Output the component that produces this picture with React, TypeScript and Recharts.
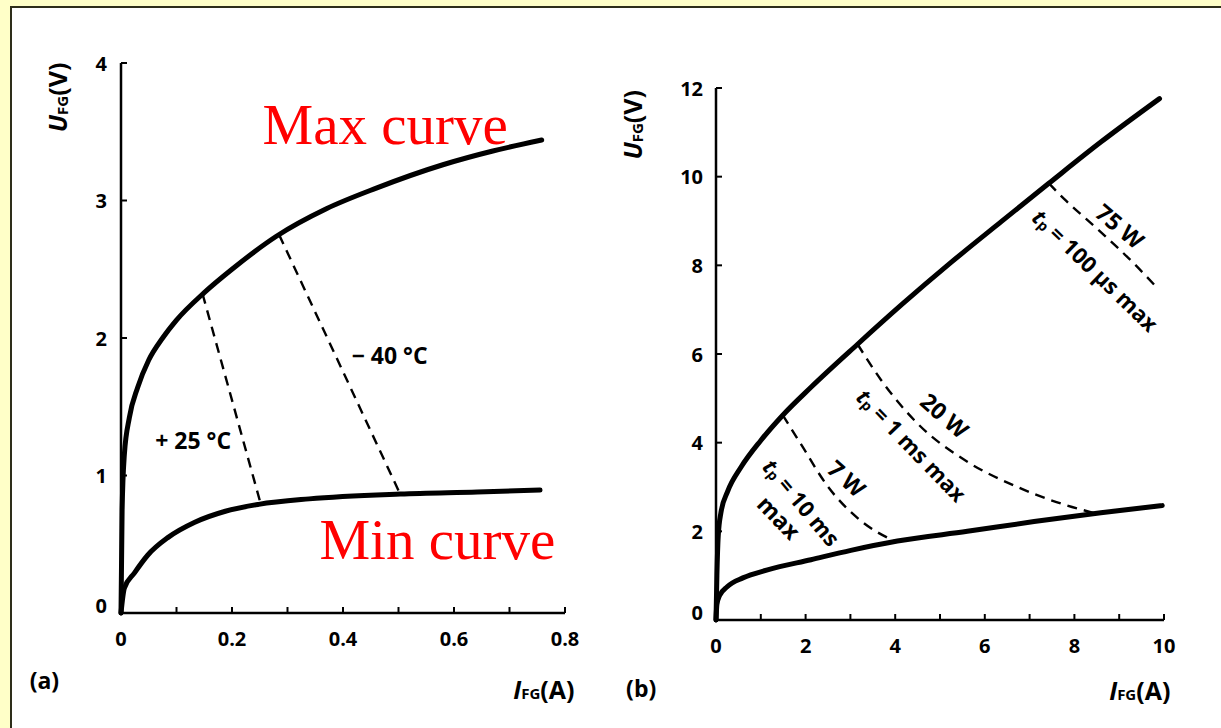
import React from 'react';
import { LineChart, Line, XAxis, YAxis, ReferenceDot } from 'recharts';

// ---------- Chart (a) data ----------
const aXTicks = [0, 0.1, 0.2, 0.3, 0.4, 0.5, 0.6, 0.7, 0.8];
const aXLabels = [0, 0.2, 0.4, 0.6, 0.8];
const aYTicks = [0, 1, 2, 3, 4];

const aMaxCurve = [
  { x: 0, y: 0 }, { x: 0.002, y: 0.75 }, { x: 0.006, y: 1.15 }, { x: 0.015, y: 1.42 },
  { x: 0.03, y: 1.64 }, { x: 0.05, y: 1.84 }, { x: 0.075, y: 2.0 }, { x: 0.1, y: 2.13 },
  { x: 0.15, y: 2.33 }, { x: 0.2, y: 2.5 }, { x: 0.28, y: 2.74 }, { x: 0.37, y: 2.94 },
  { x: 0.46, y: 3.09 }, { x: 0.58, y: 3.26 }, { x: 0.67, y: 3.36 }, { x: 0.758, y: 3.44 },
];
const aMinCurve = [
  { x: 0, y: 0 }, { x: 0.006, y: 0.18 }, { x: 0.024, y: 0.29 }, { x: 0.048, y: 0.42 },
  { x: 0.085, y: 0.55 }, { x: 0.133, y: 0.66 }, { x: 0.188, y: 0.74 }, { x: 0.248, y: 0.79 },
  { x: 0.339, y: 0.83 }, { x: 0.503, y: 0.865 }, { x: 0.642, y: 0.88 }, { x: 0.755, y: 0.894 },
];
const aPlus25 = [{ x: 0.147, y: 2.32 }, { x: 0.252, y: 0.79 }];
const aMinus40 = [{ x: 0.285, y: 2.75 }, { x: 0.503, y: 0.865 }];

// ---------- Chart (b) data ----------
const bXTicks = [0, 1, 2, 3, 4, 5, 6, 7, 8, 9, 10];
const bXLabels = [0, 2, 4, 6, 8, 10];
const bYTicks = [0, 2, 4, 6, 8, 10, 12];

const bMaxCurve = [
  { x: 0, y: 0 }, { x: 0.02, y: 1.0 }, { x: 0.05, y: 1.9 }, { x: 0.11, y: 2.42 },
  { x: 0.26, y: 2.9 }, { x: 0.56, y: 3.45 }, { x: 1.0, y: 4.05 }, { x: 1.49, y: 4.62 },
  { x: 2.12, y: 5.25 }, { x: 3.16, y: 6.22 }, { x: 4.13, y: 7.1 }, { x: 5.24, y: 8.06 },
  { x: 6.36, y: 8.98 }, { x: 7.43, y: 9.85 }, { x: 8.59, y: 10.78 }, { x: 9.9, y: 11.76 },
];
const bMinCurve = [
  { x: 0, y: 0 }, { x: 0.02, y: 0.35 }, { x: 0.08, y: 0.55 }, { x: 0.25, y: 0.75 },
  { x: 0.6, y: 0.95 }, { x: 1.15, y: 1.13 }, { x: 2.12, y: 1.36 }, { x: 3.01, y: 1.57 },
  { x: 4.05, y: 1.78 }, { x: 5.61, y: 2.0 }, { x: 7.1, y: 2.22 }, { x: 8.59, y: 2.42 },
  { x: 9.96, y: 2.58 },
];
const b75W = [
  { x: 7.43, y: 9.85 }, { x: 7.77, y: 9.5 }, { x: 8.59, y: 8.75 }, { x: 9.33, y: 8.04 }, { x: 9.85, y: 7.49 },
];
const b20W = [
  { x: 3.16, y: 6.22 }, { x: 3.68, y: 5.42 }, { x: 4.5, y: 4.43 }, { x: 5.61, y: 3.57 },
  { x: 6.73, y: 3.0 }, { x: 7.6, y: 2.66 }, { x: 8.45, y: 2.41 },
];
const b7W = [
  { x: 1.49, y: 4.62 }, { x: 1.9, y: 3.96 }, { x: 2.49, y: 3.02 }, { x: 3.23, y: 2.24 }, { x: 4.0, y: 1.77 },
];

// ---------- annotation texts ----------
const aTexts = [
  { x: 0.476, y: 3.41, kind: 'red', text: 'Max curve' },
  { x: 0.57, y: 0.39, kind: 'red', text: 'Min curve' },
  { x: 0.13, y: 1.26, kind: 'plain', text: '+ 25 °C' },
  { x: 0.484, y: 1.876, kind: 'plain', text: '\u2212 40 °C' },
  { x: -0.138, y: -0.49, kind: 'plain', text: '(a)' },
];
const bTexts = [
  { x: 9.02, y: 8.89, angle: 40, text: '75 W' },
  { x: 5.11, y: 4.62, angle: 41, text: '20 W' },
  { x: 2.92, y: 3.2, angle: 42, text: '7 W' },
  { x: 1.41, y: 2.32, angle: 46, text: 'max' },
  { x: -1.67, y: -1.53, angle: 0, text: '(b)' },
];
const bTpTexts = [
  { x: 8.48, y: 7.9, angle: 44, text: ' = 100 \u03bcs max' },
  { x: 4.375, y: 3.95, angle: 46, text: ' = 1 ms max' },
  { x: 1.92, y: 2.66, angle: 50, text: ' = 10 ms' },
];

const FONT = "'Open Sans', Lato, 'DejaVu Sans', sans-serif";
const TICK_SIZE = 20;
const NOTE_SIZE = 23;

const makeXTick = (labels: number[]) => (props: any) => {
  const { x, y, payload } = props;
  const v = payload.value;
  const show = labels.some((l) => Math.abs(l - v) < 1e-9);
  return (
    <g>
      <line x1={x} x2={x} y1={y} y2={y - 6} stroke="#000" strokeWidth={2} />
      {show && (
        <text x={x} y={y + 25} textAnchor="middle" dominantBaseline="central"
          fontFamily={FONT} fontWeight={700} fontSize={TICK_SIZE} fill="#000">{String(v)}</text>
      )}
    </g>
  );
};

const makeYTick = (gap: number) => (props: any) => {
  const { x, y, payload } = props;
  const v = payload.value;
  return (
    <g>
      <line x1={x} x2={x + 6} y1={y} y2={y} stroke="#000" strokeWidth={2} />
      <text x={x - gap} y={v === 0 ? y - 8 : y} textAnchor="end" dominantBaseline="central"
        fontFamily={FONT} fontWeight={700} fontSize={TICK_SIZE} fill="#000">{String(v)}</text>
    </g>
  );
};

const UAxisTitle = (cx: number, cy: number) => (
  <text x={cx} y={cy} transform={`rotate(-90 ${cx} ${cy})`} textAnchor="middle" dominantBaseline="central"
    fontFamily={FONT} fontWeight={700} fontSize={25} fill="#000">
    <tspan fontStyle="italic">U</tspan>
    <tspan fontSize={15} dy={5}>FG</tspan>
    <tspan dy={-5}>(V)</tspan>
  </text>
);
const IAxisTitle = (cx: number, cy: number) => (
  <text x={cx} y={cy} textAnchor="middle" dominantBaseline="central"
    fontFamily={FONT} fontWeight={700} fontSize={25} fill="#000">
    <tspan fontStyle="italic">I</tspan>
    <tspan fontSize={15} dy={4}>FG</tspan>
    <tspan dy={-4}>(A)</tspan>
  </text>
);

const curveProps = { stroke: '#000', strokeWidth: 5, dot: false, activeDot: false, isAnimationActive: false, strokeLinecap: 'round' as const };
const dashProps = { stroke: '#000', strokeWidth: 2.4, strokeDasharray: '10 7', dot: false, activeDot: false, isAnimationActive: false };

function ChartA() {
  return (
    <LineChart width={610} height={728} margin={{ top: 63, left: 81, right: 45, bottom: 85 }}>
      <XAxis dataKey="x" type="number" domain={[0, 0.8]} ticks={aXTicks} interval={0}
        tickSize={0} tickMargin={0} tickLine={false} height={30}
        axisLine={{ stroke: '#000', strokeWidth: 2.5 }} tick={makeXTick(aXLabels)} />
      <YAxis type="number" domain={[0, 4]} ticks={aYTicks} interval={0} width={40}
        tickSize={0} tickMargin={0} tickLine={false}
        axisLine={{ stroke: '#000', strokeWidth: 2.5 }} tick={makeYTick(14)} />
      <Line data={aPlus25} dataKey="y" type="linear" {...dashProps} />
      <Line data={aMinus40} dataKey="y" type="linear" {...dashProps} />
      <Line data={aMaxCurve} dataKey="y" type="monotone" {...curveProps} />
      <Line data={aMinCurve} dataKey="y" type="monotone" {...curveProps} />
      {aTexts.map((t, i) => (
        <ReferenceDot key={i} x={t.x} y={t.y} r={0} ifOverflow="visible"
          shape={(p: any) => t.kind === 'red' ? (
            <text x={p.cx} y={p.cy} textAnchor="middle" fontFamily="'Liberation Serif', 'Times New Roman', serif"
              fontSize={57} fill="#ff0000">{t.text}</text>
          ) : (
            <text x={p.cx} y={p.cy} textAnchor="middle" dominantBaseline="central" fontFamily={FONT}
              fontWeight={700} fontSize={NOTE_SIZE} fill="#000">{t.text}</text>
          )} />
      ))}
      <ReferenceDot x={-0.115} y={3.75} r={0} ifOverflow="visible" shape={(p: any) => UAxisTitle(p.cx, p.cy)} />
      <ReferenceDot x={0.762} y={-0.553} r={0} ifOverflow="visible" shape={(p: any) => IAxisTitle(p.cx, p.cy)} />
    </LineChart>
  );
}

function ChartB() {
  return (
    <LineChart width={611} height={728} margin={{ top: 88, left: 66, right: 57, bottom: 78 }}>
      <XAxis dataKey="x" type="number" domain={[0, 10]} ticks={bXTicks} interval={0}
        tickSize={0} tickMargin={0} tickLine={false} height={30}
        axisLine={{ stroke: '#000', strokeWidth: 2.5 }} tick={makeXTick(bXLabels)} />
      <YAxis type="number" domain={[0, 12]} ticks={bYTicks} interval={0} width={40}
        tickSize={0} tickMargin={0} tickLine={false}
        axisLine={{ stroke: '#000', strokeWidth: 2.5 }} tick={makeYTick(13)} />
      <Line data={b75W} dataKey="y" type="monotone" {...dashProps} />
      <Line data={b20W} dataKey="y" type="monotone" {...dashProps} />
      <Line data={b7W} dataKey="y" type="monotone" {...dashProps} />
      <Line data={bMaxCurve} dataKey="y" type="monotone" {...curveProps} />
      <Line data={bMinCurve} dataKey="y" type="monotone" {...curveProps} />
      {bTexts.map((t, i) => (
        <ReferenceDot key={i} x={t.x} y={t.y} r={0} ifOverflow="visible"
          shape={(p: any) => (
            <text x={p.cx} y={p.cy} transform={`rotate(${t.angle} ${p.cx} ${p.cy})`} textAnchor="middle"
              dominantBaseline="central" fontFamily={FONT} fontWeight={700} fontSize={NOTE_SIZE} fill="#000">{t.text}</text>
          )} />
      ))}
      {bTpTexts.map((t, i) => (
        <ReferenceDot key={'tp' + i} x={t.x} y={t.y} r={0} ifOverflow="visible"
          shape={(p: any) => (
            <text x={p.cx} y={p.cy} transform={`rotate(${t.angle} ${p.cx} ${p.cy})`} textAnchor="middle"
              dominantBaseline="central" fontFamily={FONT} fontWeight={700} fontSize={NOTE_SIZE - 1} fill="#000">
              <tspan fontStyle="italic">t</tspan>
              <tspan fontSize={14} dy={4}>p</tspan>
              <tspan dy={-4}>{t.text}</tspan>
            </text>
          )} />
      ))}
      <ReferenceDot x={-1.875} y={11.17} r={0} ifOverflow="visible" shape={(p: any) => UAxisTitle(p.cx, p.cy)} />
      <ReferenceDot x={9.46} y={-1.58} r={0} ifOverflow="visible" shape={(p: any) => IAxisTitle(p.cx, p.cy)} />
    </LineChart>
  );
}

export default function App() {
  return (
    <div style={{ position: 'absolute', left: 0, top: 0, width: 1221, height: 728, background: '#FFFFC8', overflow: 'hidden' }}>
      <div style={{ position: 'absolute', left: 10, top: 6, right: -4, bottom: -4, background: '#fff',
        borderLeft: '2px solid #2e2e1a', borderTop: '2px solid #2e2e1a' }} />
      <div style={{ position: 'absolute', left: 0, top: 0 }}>
        <ChartA />
      </div>
      <div style={{ position: 'absolute', left: 610, top: 0 }}>
        <ChartB />
      </div>
    </div>
  );
}
